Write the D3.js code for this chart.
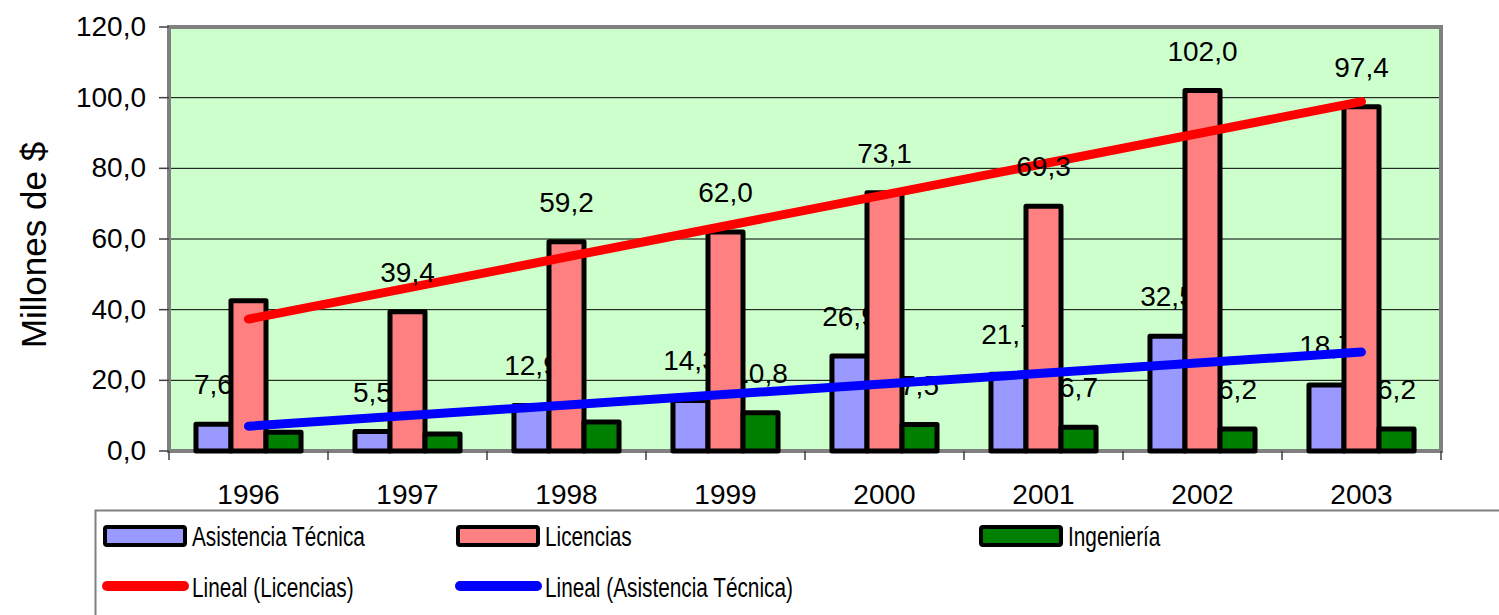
<!DOCTYPE html>
<html>
<head>
<meta charset="utf-8">
<script src="https://cdn.jsdelivr.net/npm/d3@7"></script>
<style>
  body { margin: 0; background: #fff; }
  text { font-family: "Liberation Sans", Arial, sans-serif; fill: #000; }
</style>
</head>
<body>
<div id="Area"></div>
<script>
// data
var years = ["1996", "1997", "1998", "1999", "2000", "2001", "2002", "2003"];
var seriesNames = ["Asistencia Técnica", "Licencias", "Ingeniería"];
var asistencia = [7.6, 5.5, 12.9, 14.3, 26.9, 21.7, 32.5, 18.7];
var licencias = [42.5, 39.4, 59.2, 62.0, 73.1, 69.3, 102.0, 97.4];
var ingenieria = [5.3, 4.8, 8.2, 10.8, 7.5, 6.7, 6.2, 6.2];
// which data labels are visible in the chart
var showAsistencia = [1, 1, 1, 1, 1, 1, 1, 1];
var showLicencias = [0, 1, 1, 1, 1, 1, 1, 1];
var showIngenieria = [0, 0, 0, 1, 1, 1, 1, 1];
var yTicks = [0, 20, 40, 60, 80, 100, 120];
var yTitle = "Millones de $";

var colors = ["#9999FF", "#FF8080", "#008000"];
var margin = { top: 27, left: 169 },
  width = 1272,
  height = 424;

var svg = d3.select("#Area").append("svg")
  .attr("width", 1499)
  .attr("height", 615);

var g = svg.append("g")
  .attr("transform", "translate(" + margin.left + "," + margin.top + ")");

var x0 = d3.scaleBand().domain(years).range([0, width]);
var x1 = d3.scaleBand().domain(seriesNames).range([0, x0.bandwidth()])
  .paddingInner(0).paddingOuter(0.77);
var y = d3.scaleLinear().domain([0, 120]).range([height, 0]);
var fmt = function (v) { return d3.format(".1f")(v).replace(".", ","); };

// plot background
g.append("rect")
  .attr("width", width).attr("height", height)
  .attr("fill", "#CCFFCC");

// gridlines
g.selectAll(".grid")
  .data(yTicks.filter(function (t) { return t > 0 && t < 120; }))
  .enter().append("line")
  .attr("x1", 0).attr("x2", width)
  .attr("y1", function (d) { return y(d); })
  .attr("y2", function (d) { return y(d); })
  .attr("stroke", "#000").attr("stroke-width", 1);

// border
g.append("rect")
  .attr("width", width).attr("height", height)
  .attr("fill", "none").attr("stroke", "#808080").attr("stroke-width", 4);

// y axis ticks + labels
var yAxis = g.append("g");
yAxis.selectAll("line").data(yTicks).enter().append("line")
  .attr("x1", -10).attr("x2", 0)
  .attr("y1", function (d) { return y(d); })
  .attr("y2", function (d) { return y(d); })
  .attr("stroke", "#404040").attr("stroke-width", 1.5);
yAxis.selectAll("text").data(yTicks).enter().append("text")
  .attr("x", -23)
  .attr("y", function (d) { return y(d) + 9; })
  .attr("text-anchor", "end")
  .attr("font-size", 28)
  .text(fmt);

// x axis ticks + labels
var xAxis = g.append("g");
xAxis.selectAll("line").data(d3.range(years.length + 1)).enter().append("line")
  .attr("x1", function (i) { return i * x0.step(); })
  .attr("x2", function (i) { return i * x0.step(); })
  .attr("y1", height).attr("y2", height + 9)
  .attr("stroke", "#404040").attr("stroke-width", 1.5);
xAxis.selectAll("text").data(years).enter().append("text")
  .attr("x", function (d) { return x0(d) + x0.bandwidth() / 2; })
  .attr("y", height + 53)
  .attr("text-anchor", "middle")
  .attr("font-size", 28)
  .text(function (d) { return d; });

// y title
svg.append("text")
  .attr("transform", "translate(46,245) rotate(-90)")
  .attr("text-anchor", "middle")
  .attr("font-size", 35)
  .text(yTitle);

var series = [
  { name: seriesNames[0], values: asistencia, show: showAsistencia, color: colors[0] },
  { name: seriesNames[1], values: licencias, show: showLicencias, color: colors[1] },
  { name: seriesNames[2], values: ingenieria, show: showIngenieria, color: colors[2] }
];

function drawLabels(s) {
  g.selectAll(null)
    .data(years.filter(function (yr, i) { return s.show[i]; }))
    .enter().append("text")
    .attr("x", function (d) { return x0(d) + x1(s.name) + x1.bandwidth() / 2; })
    .attr("y", function (d) { return y(s.values[years.indexOf(d)]) - 30; })
    .attr("text-anchor", "middle")
    .attr("font-size", 28)
    .text(function (d) { return fmt(s.values[years.indexOf(d)]); });
}

// labels of the outer series sit beneath the bars, as in the original
drawLabels(series[0]);
drawLabels(series[2]);

// bars
series.forEach(function (s) {
  g.selectAll(null)
    .data(years)
    .enter().append("rect")
    .attr("x", function (d) { return x0(d) + x1(s.name); })
    .attr("y", function (d, i) { return y(s.values[i]); })
    .attr("width", x1.bandwidth())
    .attr("height", function (d, i) { return height - y(s.values[i]); })
    .attr("fill", s.color)
    .attr("stroke", "#000")
    .attr("stroke-width", 5)
    .attr("stroke-linejoin", "round");
});

// linear trend lines
function trend(vals) {
  var xs = d3.range(1, vals.length + 1);
  var mx = d3.mean(xs), my = d3.mean(vals);
  var sxy = d3.sum(xs, function (xv, i) { return (xv - mx) * (vals[i] - my); });
  var sxx = d3.sum(xs, function (xv) { return (xv - mx) * (xv - mx); });
  var b = sxy / sxx, a = my - b * mx;
  return [a + b * 1, a + b * vals.length];
}
var trends = [
  { name: "Lineal (Licencias)", values: trend(licencias), color: "#FF0000" },
  { name: "Lineal (Asistencia Técnica)", values: trend(asistencia), color: "#0000FF" }
];
var cx = function (yr) { return x0(yr) + x0.bandwidth() / 2; };
trends.forEach(function (t) {
  g.append("line")
    .attr("x1", cx(years[0])).attr("y1", y(t.values[0]))
    .attr("x2", cx(years[years.length - 1])).attr("y2", y(t.values[1]))
    .attr("stroke", t.color)
    .attr("stroke-width", 9)
    .attr("stroke-linecap", "round");
});

// Licencias labels on top of the trend line
drawLabels(series[1]);

// legend
svg.append("rect")
  .attr("x", 95.5).attr("y", 510.5)
  .attr("width", 1420).attr("height", 120)
  .attr("fill", "#fff").attr("stroke", "#808080").attr("stroke-width", 2);

var legendX = [105, 458, 981];
series.forEach(function (s, i) {
  svg.append("rect")
    .attr("x", legendX[i]).attr("y", 527)
    .attr("width", 80).attr("height", 18)
    .attr("rx", 2)
    .attr("fill", s.color).attr("stroke", "#000").attr("stroke-width", 4);
  svg.append("text")
    .attr("transform", "translate(" + (legendX[i] + 87) + ",546) scale(0.77,1)")
    .attr("font-size", 27)
    .text(s.name);
});
trends.forEach(function (t, i) {
  svg.append("line")
    .attr("x1", legendX[i] + 2).attr("x2", legendX[i] + 79)
    .attr("y1", 586).attr("y2", 586)
    .attr("stroke", t.color).attr("stroke-width", 10)
    .attr("stroke-linecap", "round");
  svg.append("text")
    .attr("transform", "translate(" + (legendX[i] + 87) + ",597) scale(0.77,1)")
    .attr("font-size", 27)
    .text(t.name);
});
</script>
</body>
</html>
